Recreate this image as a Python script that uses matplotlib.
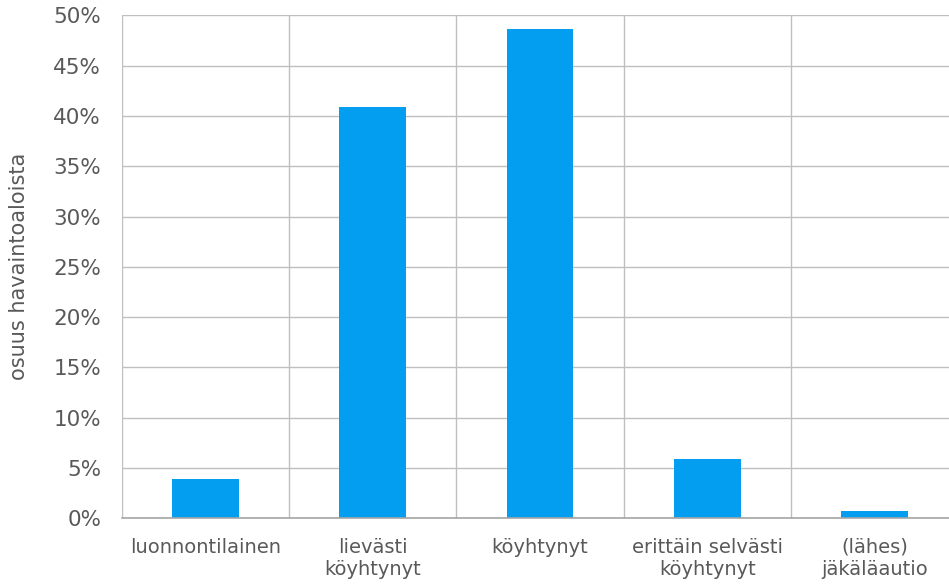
import matplotlib
matplotlib.use("Agg")
import matplotlib.pyplot as plt
from matplotlib.ticker import FuncFormatter, MultipleLocator

categories = ["luonnontilainen", "lievästi\nköyhtynyt", "köyhtynyt",
              "erittäin selvästi\nköyhtynyt", "(lähes)\njäkäläautio"]
shares = [3.9, 40.9, 48.6, 5.9, 0.7]
y_label = "osuus havaintoaloista"

plt.rcParams["font.family"] = ["DejaVu Sans"]
text_color = "#595959"
grid_color = "#BFBFBF"

fig = plt.figure(figsize=(9.49, 5.88), dpi=100)
# axes extend a little past the right edge of the canvas
ax = fig.add_axes([122 / 949, 1 - 518.3 / 588, 836 / 949, (518.3 - 15.4) / 588])

x = list(range(len(categories)))
ax.bar(x, shares, width=0.4, color="#039EEF", zorder=3)

ax.set_xlim(-0.5, len(categories) - 0.5)
ax.set_ylim(0, 50)
ax.yaxis.set_major_locator(MultipleLocator(5))
ax.yaxis.set_major_formatter(FuncFormatter(lambda v, p: f"{v:.0f}%"))

# category separators as vertical gridlines
for b in [i - 0.5 for i in range(len(categories) + 1)]:
    ax.axvline(b, color=grid_color, lw=1.0, zorder=1)
ax.yaxis.grid(True, color=grid_color, lw=1.0, zorder=1)

ax.set_xticks(x)
ax.set_xticklabels(categories, fontsize=14, color=text_color, linespacing=1.25)
ax.tick_params(axis="x", length=0, pad=14)
ax.tick_params(axis="y", length=0, pad=15, labelsize=15.5, labelcolor=text_color)

for side in ["top", "right", "left"]:
    ax.spines[side].set_visible(False)
ax.spines["bottom"].set_color("#A6A6A6")
ax.spines["bottom"].set_linewidth(1.2)
ax.spines["bottom"].set_zorder(4)

fig.text(19 / 949, 1 - 266 / 588, y_label, rotation=90, ha="center", va="center",
         fontsize=15, color=text_color)

fig.savefig("out.png", dpi=100)
